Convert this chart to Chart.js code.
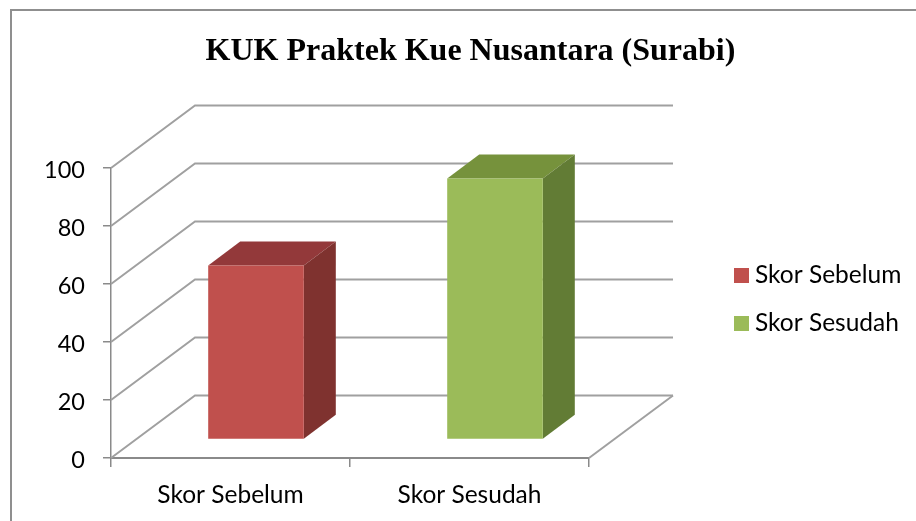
<!DOCTYPE html>
<html>
<head>
<meta charset="utf-8">
<style>
html,body{margin:0;padding:0;background:#fff;width:916px;height:521px;overflow:hidden}
#frame{position:absolute;left:10px;top:9px;width:1000px;height:1000px;border:2px solid #8f8f8f}
#c{position:absolute;left:0;top:0}
</style>
<script src="https://cdn.jsdelivr.net/npm/chart.js@4"></script>
</head>
<body>
<div id="frame"></div>
<canvas id="c" width="916" height="521"></canvas>
<script>
const categories = ["Skor Sebelum", "Skor Sesudah"];
const sebelum = [60, null];
const sesudah = [null, 90];
const yMax = 100;
const yStep = 20;
const titleText = "KUK Praktek Kue Nusantara (Surabi)";

const red = {front:"#C0504D", top:"#93393A", side:"#7F322F"};
const green = {front:"#9BBB59", top:"#76923C", side:"#627C35"};
const gridColor = "#a0a0a0";
const axisColor = "#8a8a8a";
const fontSize = 24.5;
const labelFont = {family:"Lato", size:fontSize};
const tickFont = {family:"Lato", size:23.5};

const wall = {dx:84, dy:-62.5};
const barShift = {dx:25.5, dy:-18.5};
const barDepth = {dx:32, dy:-24};
const swatchSize = 15;
const markerWidth = 27 - fontSize;

function swatch(color){
  const s = document.createElement("canvas");
  s.width = swatchSize; s.height = swatchSize;
  const g = s.getContext("2d");
  g.fillStyle = color;
  g.fillRect(0,0,swatchSize,swatchSize);
  return s;
}

const threeD = {
  id:"threeD",
  beforeDatasetsDraw(chart){
    const {ctx, scales:{y}, chartArea:a} = chart;
    ctx.save();
    ctx.strokeStyle = gridColor;
    ctx.lineWidth = 2;
    y.ticks.forEach(t=>{
      const py = y.getPixelForValue(t.value);
      ctx.beginPath();
      ctx.moveTo(a.left, py);
      ctx.lineTo(a.left+wall.dx, py+wall.dy);
      ctx.lineTo(a.right+wall.dx, py+wall.dy);
      ctx.stroke();
    });
    ctx.beginPath();
    ctx.moveTo(a.right, a.bottom);
    ctx.lineTo(a.right+wall.dx, a.bottom+wall.dy);
    ctx.stroke();
    ctx.restore();
  },
  beforeDatasetDraw(chart, args){
    const {ctx} = chart;
    ctx.save();
    ctx.translate(barShift.dx, barShift.dy);
    const ds = chart.data.datasets[args.index];
    chart.getDatasetMeta(args.index).data.forEach((el,i)=>{
      if (ds.data[i] == null) return;
      const {x,y,base,width} = el.getProps(["x","y","base","width"], true);
      const l=x-width/2, r=x+width/2, d=barDepth;
      ctx.fillStyle = ds.topColor;
      ctx.beginPath();
      ctx.moveTo(l,y); ctx.lineTo(l+d.dx,y+d.dy); ctx.lineTo(r+d.dx,y+d.dy); ctx.lineTo(r,y);
      ctx.closePath(); ctx.fill();
      ctx.fillStyle = ds.sideColor;
      ctx.beginPath();
      ctx.moveTo(r,y); ctx.lineTo(r+d.dx,y+d.dy); ctx.lineTo(r+d.dx,base+d.dy); ctx.lineTo(r,base);
      ctx.closePath(); ctx.fill();
    });
  },
  afterDatasetDraw(chart){ chart.ctx.restore(); },
  afterLayout(chart){
    const lg = chart.legend, pad = lg.options.labels.padding;
    const w = lg.width, h = lg.height;
    lg.left = 734 + swatchSize/2 - markerWidth/2 - pad; lg.right = lg.left + w;
    lg.top = 268 - pad - (fontSize - swatchSize)/2; lg.bottom = lg.top + h;
    const tb = chart.titleBlock;
    tb.left = 0; tb.right = 941; tb.width = 941;
  }
};

new Chart(document.getElementById("c"), {
  type:"bar",
  data:{
    labels:categories,
    datasets:[
      {label:"Skor Sebelum", data:sebelum, backgroundColor:red.front, topColor:red.top, sideColor:red.side, clip:false},
      {label:"Skor Sesudah", data:sesudah, backgroundColor:green.front, topColor:green.top, sideColor:green.side, clip:false}
    ]
  },
  plugins:[threeD],
  options:{
    responsive:false,
    animation:false,
    devicePixelRatio:1,
    layout:{padding:{left:0,right:327,top:0,bottom:0}},
    datasets:{bar:{barPercentage:1, categoryPercentage:0.4}},
    scales:{
      x:{
        stacked:true,
        afterFit(a){a.height=63;},
        border:{color:axisColor,width:2},
        grid:{drawOnChartArea:false,drawTicks:true,tickLength:9,color:axisColor,lineWidth:1.5,offset:true},
        ticks:{color:"#000",font:labelFont,padding:13,maxRotation:0}
      },
      y:{
        stacked:true,
        min:0,max:yMax,
        afterFit(a){a.width=111;},
        border:{color:axisColor,width:1.5},
        grid:{drawOnChartArea:false,drawTicks:true,tickLength:8,color:axisColor,lineWidth:1.5},
        ticks:{color:"#000",font:tickFont,padding:18,stepSize:yStep,labelOffset:2}
      }
    },
    plugins:{
      title:{display:true,text:titleText,color:"#000",
        font:{family:"'Liberation Serif'",size:32,weight:"bold",lineHeight:1.2},
        padding:{top:33,bottom:96.6}},
      legend:{
        position:"chartArea",align:"start",
        labels:{
          boxWidth:swatchSize,boxHeight:swatchSize,color:"#000",font:labelFont,padding:48-fontSize,
          usePointStyle:true,pointStyleWidth:markerWidth,
          generateLabels(chart){
            return Chart.defaults.plugins.legend.labels.generateLabels(chart).map((item,i)=>{
              item.pointStyle = swatch(chart.data.datasets[i].backgroundColor);
              return item;
            });
          }
        }
      },
      tooltip:{enabled:false}
    }
  }
});
</script>
</body>
</html>
